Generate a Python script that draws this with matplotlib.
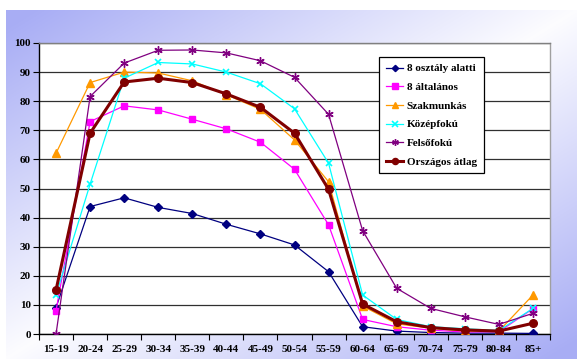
import numpy as np
import matplotlib
matplotlib.use("Agg")
import matplotlib.pyplot as plt

categories = ["15-19", "20-24", "25-29", "30-34", "35-39", "40-44", "45-49", "50-54",
              "55-59", "60-64", "65-69", "70-74", "75-79", "80-84", "85+"]
osztaly8_alatti = [9.1, 43.8, 46.8, 43.5, 41.4, 37.7, 34.4, 30.6, 21.4, 2.5, 1.0, 0.5, 0.3, 0.3, 0.2]
altalanos8 = [8.0, 73.0, 78.4, 77.0, 73.8, 70.5, 65.9, 56.6, 37.5, 5.0, 2.5, 1.3, 0.7, 0.8, 8.7]
szakmunkas = [62.1, 86.4, 90.0, 89.7, 87.0, 82.2, 77.2, 66.7, 52.3, 9.6, 3.5, 2.0, 1.0, 1.0, 13.4]
kozepfoku = [13.4, 51.5, 87.9, 93.3, 92.8, 90.0, 86.0, 77.4, 58.7, 13.4, 5.0, 2.5, 1.8, 1.2, 8.8]
felsofoku = [0.0, 81.6, 93.1, 97.5, 97.6, 96.6, 93.9, 88.2, 75.5, 35.5, 15.7, 8.8, 5.9, 3.3, 7.1]
orszagos = [15.1, 69.0, 86.6, 87.9, 86.4, 82.5, 77.9, 69.0, 49.7, 10.3, 4.2, 2.2, 1.4, 1.0, 3.7]

series = [
    ("8 osztály alatti", osztaly8_alatti, dict(color="#000080", marker="D", ms=4, lw=0.9)),
    ("8 általános", altalanos8, dict(color="#ff00ff", marker="s", ms=5, lw=0.9)),
    ("Szakmunkás", szakmunkas, dict(color="#ff9900", marker="^", ms=6, lw=0.9)),
    ("Középfokú", kozepfoku, dict(color="#00ffff", marker="x", ms=5, mew=1.2, lw=0.9)),
    ("Felsőfokú", felsofoku, dict(color="#800080", marker=(6, 2, 0), ms=6, mew=1.0, lw=0.9)),
    ("Országos átlag", orszagos, dict(color="#800000", marker="o", ms=5.5, lw=2.2)),
]

W, H = 577, 359
fig = plt.figure(figsize=(W / 100, H / 100), dpi=100)
fig.patch.set_facecolor("white")

# background gradient
bg = fig.add_axes([6 / W, 0, 1 - 6 / W, 1 - 10 / H])
bg.set_axis_off()
u = np.linspace(0, 1, 300)
v = np.linspace(0, 1, 200)
U, V = np.meshgrid(u, v)
t = np.clip(np.abs(U + V - 1) * 1.05, 0, 1)  # V=0 at top
c0 = np.array([0.99, 0.99, 1.0])
c1 = np.array([0.66, 0.68, 0.96])
img = c0[None, None, :] * (1 - t[..., None]) + c1[None, None, :] * t[..., None]
bg.imshow(img, aspect="auto", extent=[0, 1, 0, 1], origin="upper")
bg.set_xlim(0, 1)
bg.set_ylim(0, 1)

ax = fig.add_axes([39 / W, 1 - 334 / H, (550 - 39) / W, (334 - 43) / H])
ax.set_facecolor("white")
x = np.arange(len(categories))
for name, vals, st in series:
    ax.plot(x, vals, label=name, zorder=3, **st)

ax.set_xlim(-0.5, len(categories) - 0.5)
ax.set_ylim(0, 100)
ax.set_yticks(np.arange(0, 101, 10))
ax.set_xticks(x)
ax.set_xticklabels(categories)
ax.set_xticks(np.arange(-0.5, len(categories), 1), minor=True)
ax.tick_params(axis="x", which="major", length=0, pad=8)
ax.tick_params(axis="x", which="minor", length=4, width=0.8, direction="out")
ax.tick_params(axis="y", length=4, width=0.8, direction="out", pad=2)
ax.yaxis.grid(True, color="#303030", lw=0.9)
ax.set_axisbelow(True)
for lab in ax.get_xticklabels() + ax.get_yticklabels():
    lab.set_fontfamily("Liberation Serif")
    lab.set_fontweight("bold")
    lab.set_fontsize(8)
ax.spines["top"].set_color("#808080")
ax.spines["right"].set_color("#a0a0a0")
ax.spines["left"].set_color("black")
ax.spines["bottom"].set_color("black")
for s in ax.spines.values():
    s.set_linewidth(1.0)

leg = ax.legend(loc="upper left", bbox_to_anchor=((379 - 39) / (550 - 39), 1 - (57 - 43) / (334 - 43)),
                frameon=True, fancybox=False, edgecolor="black", framealpha=1,
                prop=dict(family="Liberation Serif", weight="bold", size=8),
                handlelength=1.6, handletextpad=0.3, labelspacing=0.8, borderpad=0.6,
                borderaxespad=0, markerscale=0.8)
leg.get_frame().set_linewidth(0.9)

fig.savefig("out.png", dpi=100)
